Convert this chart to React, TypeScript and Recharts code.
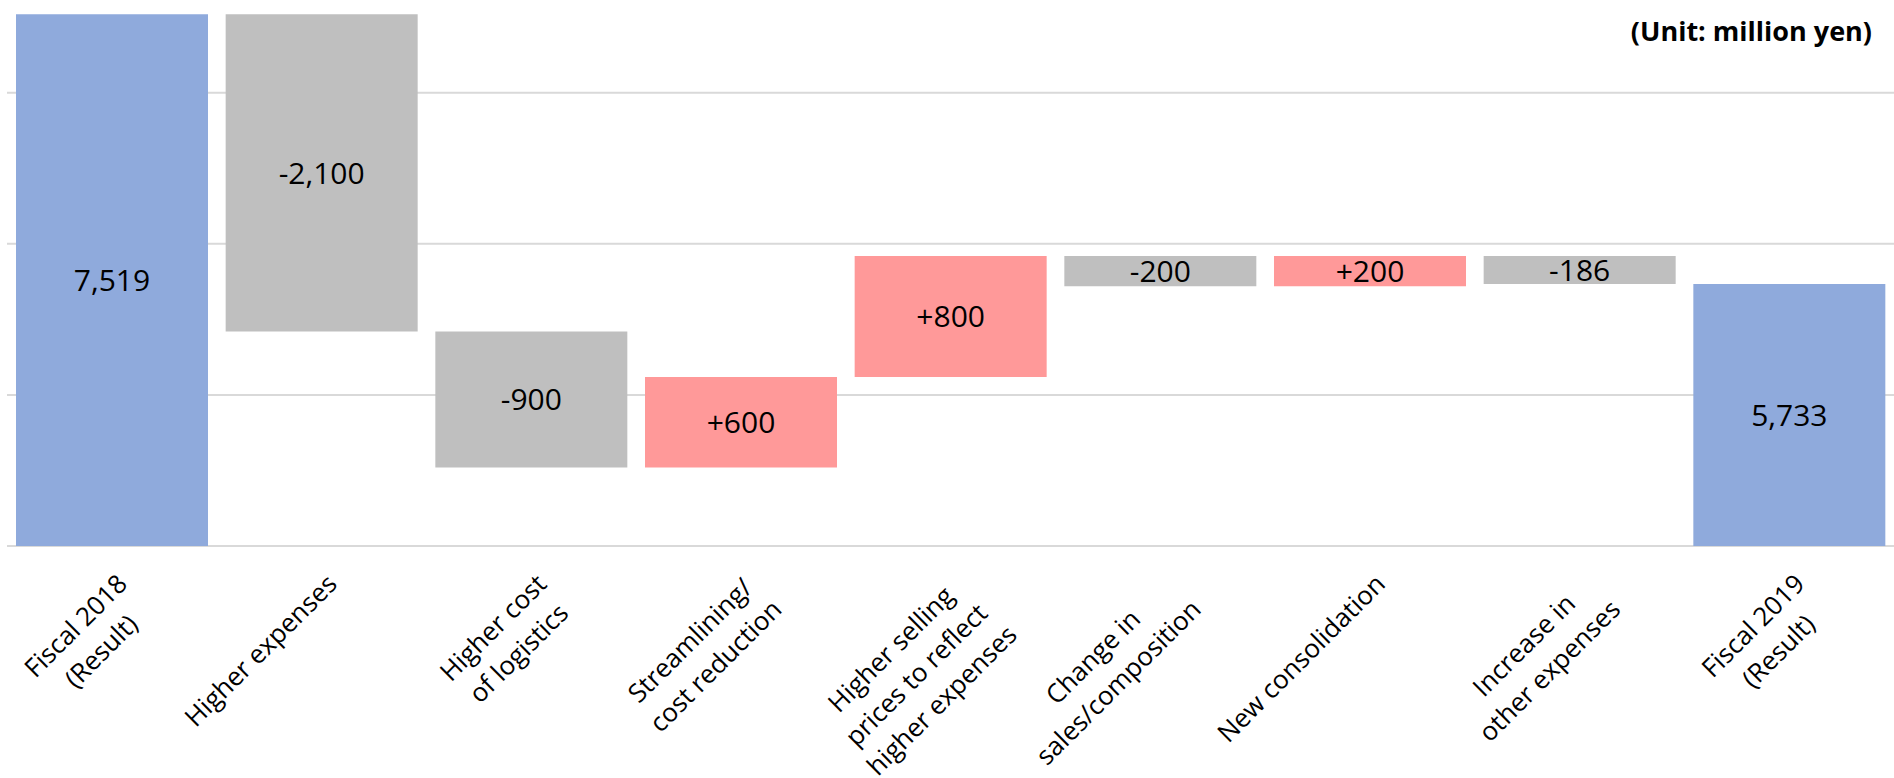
import React from "react";
import { BarChart, Bar, XAxis, YAxis, CartesianGrid, Cell, LabelList } from "recharts";

const categories = [
  "Fiscal 2018\n(Result)",
  "Higher expenses",
  "Higher cost\nof logistics",
  "Streamlining/\ncost reduction",
  "Higher selling\nprices to reflect\nhigher expenses",
  "Change in\nsales/composition",
  "New consolidation",
  "Increase in\nother expenses",
  "Fiscal 2019\n(Result)",
];
const changes = [7519, -2100, -900, 600, 800, -200, 200, -186, 5733];
const isTotal = [true, false, false, false, false, false, false, false, true];
const yTicks = [4000, 5000, 6000, 7000];
const AXIS_MIN = 4000;
const AXIS_MAX = 7600;

const BLUE = "#8FAADC";
const PINK = "#FF9999";
const GREY = "#BFBFBF";
const FONT = "'Open Sans', sans-serif";

// waterfall: each step floats from the running total
let running = 0;
const data = categories.map((name, i) => {
  const v = changes[i];
  let range: [number, number];
  if (isTotal[i]) {
    range = [AXIS_MIN, v];
    running = v;
  } else {
    const start = running;
    running += v;
    range = v < 0 ? [running, start] : [start, running];
  }
  const label = isTotal[i]
    ? v.toLocaleString("en-US")
    : (v > 0 ? "+" : "-") + Math.abs(v).toLocaleString("en-US");
  const color = isTotal[i] ? BLUE : v > 0 ? PINK : GREY;
  return { name, range, label, color };
});

let ctx: CanvasRenderingContext2D | null = null;
function textWidth(s: string) {
  if (!ctx) ctx = document.createElement("canvas").getContext("2d");
  if (!ctx) return s.length * 14;
  ctx.font = "26px 'Open Sans'";
  return ctx.measureText(s).width;
}

const CategoryTick = (props: any) => {
  const { x, y, payload } = props;
  const lines = String(payload.value).split("\n");
  const w = Math.max(...lines.map(textWidth));
  const cx = -16 - w / 2;
  return (
    <g transform={`translate(${x},${y}) rotate(-45)`}>
      {lines.map((line, i) => (
        <text
          key={i}
          x={cx}
          y={40 + i * 36}
          textAnchor="middle"
          fontFamily={FONT}
          fontSize={26}
          fill="#000"
        >
          {line}
        </text>
      ))}
    </g>
  );
};

export default function App() {
  return (
    <div style={{ position: "absolute", left: 0, top: 0, width: 1894, height: 778, background: "#fff" }}>
      <BarChart
        width={1894}
        height={778}
        data={data}
        margin={{ top: 2, right: 0, left: 7, bottom: 0 }}
        barCategoryGap={9}
      >
        <CartesianGrid vertical={false} horizontalValues={yTicks} stroke="#D9D9D9" strokeWidth={2} />
        <XAxis
          dataKey="name"
          interval={0}
          height={232}
          tickLine={false}
          axisLine={false}
          tickSize={0}
          tickMargin={0}
          tick={<CategoryTick />}
        />
        <YAxis hide type="number" domain={[AXIS_MIN, AXIS_MAX]} ticks={yTicks} />
        <Bar dataKey="range" isAnimationActive={false}>
          {data.map((d, i) => (
            <Cell key={i} fill={d.color} />
          ))}
          <LabelList dataKey="label" position="center" fill="#000" fontSize={30} fontFamily={FONT} />
        </Bar>
      </BarChart>
      <svg
        width={1894}
        height={778}
        style={{ position: "absolute", left: 0, top: 0, pointerEvents: "none" }}
      >
        <text x={1872} y={41} textAnchor="end" fontFamily={FONT} fontWeight="bold" fontSize={27} fill="#000">
          (Unit: million yen)
        </text>
      </svg>
    </div>
  );
}
